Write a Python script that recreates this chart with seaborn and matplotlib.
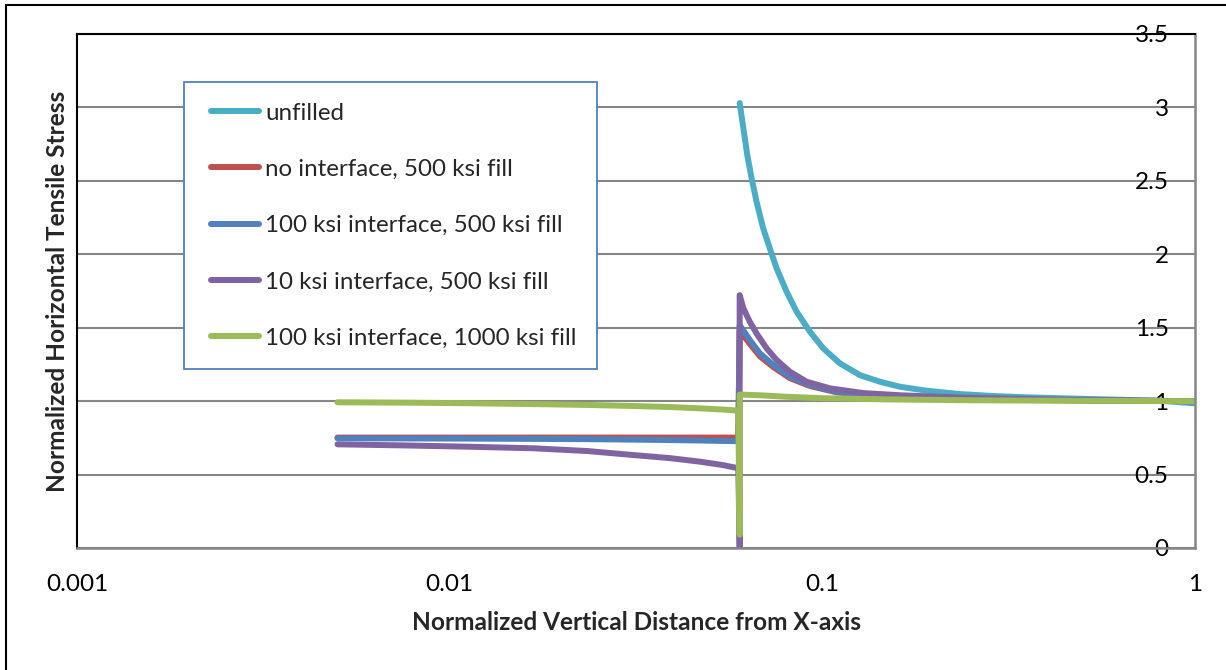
import matplotlib
matplotlib.use("Agg")
import matplotlib.pyplot as plt
import matplotlib.ticker as mticker
from matplotlib.lines import Line2D
from matplotlib.legend_handler import HandlerLine2D
import pandas as pd
import seaborn as sns

# ---------------- data ----------------
series_names = [
    "unfilled",
    "no interface, 500 ksi fill",
    "100 ksi interface, 500 ksi fill",
    "10 ksi interface, 500 ksi fill",
    "100 ksi interface, 1000 ksi fill",
]
colors = ["#4BACC6", "#C0504D", "#4F81BD", "#8064A2", "#9BBB59"]

x_tip = 0.0600

# unfilled (only exists beyond the crack tip)
x_unfilled = [0.0600, 0.0614, 0.0629, 0.0646, 0.0666, 0.0694, 0.0723, 0.0754,
              0.0802, 0.0853, 0.0927, 0.1006, 0.1115, 0.1262, 0.1428, 0.1616,
              0.1905, 0.2341, 0.2875, 0.3535, 0.5326, 0.8054, 1.0]
y_unfilled = [3.03, 2.857, 2.675, 2.517, 2.358, 2.176, 2.04, 1.904,
              1.745, 1.609, 1.472, 1.359, 1.257, 1.177, 1.132, 1.098,
              1.071, 1.048, 1.035, 1.026, 1.014, 1.003, 0.985]

# before the crack tip (shared x)
x_pre = [0.005, 0.00735, 0.0111, 0.0168, 0.0235, 0.0311, 0.0390, 0.0469, 0.0540, 0.0595]

red_pre = [0.752, 0.752, 0.752, 0.752, 0.752, 0.752, 0.752, 0.752, 0.752, 0.752]
blue_pre = [0.747, 0.746, 0.745, 0.743, 0.741, 0.738, 0.735, 0.732, 0.729, 0.727]
purple_pre = [0.706, 0.699, 0.690, 0.679, 0.660, 0.633, 0.612, 0.588, 0.565, 0.543]
green_pre = [0.992, 0.990, 0.986, 0.980, 0.974, 0.967, 0.960, 0.951, 0.943, 0.935]

# values right at the crack tip (bottom of the vertical drop)
purple_tip = 0.0
green_tip = 0.09

# after the crack tip
x_post_rb = [0.0600, 0.0639, 0.0680, 0.0739, 0.0819, 0.0927, 0.1093, 0.1343,
             0.1616, 0.2341, 0.3500, 0.5500, 1.0]
red_post = [1.48, 1.39, 1.305, 1.232, 1.156, 1.103, 1.06, 1.037,
            1.028, 1.017, 1.009, 1.004, 1.0]
blue_post = [1.518, 1.416, 1.325, 1.246, 1.166, 1.11, 1.064, 1.04,
             1.03, 1.018, 1.01, 1.004, 1.0]

x_post_purple = [0.0600, 0.0614, 0.0639, 0.0666, 0.0709, 0.0754, 0.0819, 0.0908,
                 0.1049, 0.1288, 0.1616, 0.1905, 0.2341, 0.3535, 0.5500, 1.0]
purple_post = [1.722, 1.632, 1.54, 1.461, 1.359, 1.28, 1.20, 1.132,
               1.087, 1.055, 1.040, 1.033, 1.025, 1.014, 1.005, 1.0]

x_post_green = [0.0600, 0.0680, 0.0800, 0.1000, 0.1500, 0.2500, 0.5000, 1.0]
green_post = [1.045, 1.04, 1.03, 1.02, 1.012, 1.006, 1.002, 1.0]

x_ticks = [0.001, 0.01, 0.1, 1]
x_tick_labels = ["0.001", "0.01", "0.1", "1"]
y_ticks = [0, 0.5, 1, 1.5, 2, 2.5, 3, 3.5]
y_tick_labels = ["0", "0.5", "1", "1.5", "2", "2.5", "3", "3.5"]

x_label = "Normalized Vertical Distance from X-axis"
y_label = "Normalized Horizontal Tensile Stress"

# ---------------- build long table ----------------
rows = []
def add(name, xs, ys):
    for xv, yv in zip(xs, ys):
        rows.append({"series": name, "x": xv, "y": yv})

add(series_names[0], x_unfilled, y_unfilled)
add(series_names[1], x_pre + x_post_rb, red_pre + red_post)
add(series_names[2], x_pre + x_post_rb, blue_pre + blue_post)
add(series_names[3], x_pre + [x_tip] + x_post_purple,
    purple_pre + [purple_tip] + purple_post)
add(series_names[4], x_pre + [x_tip] + x_post_green,
    green_pre + [green_tip] + green_post)
df = pd.DataFrame(rows)

# ---------------- plot ----------------
sns.set_theme(style="white")
plt.rcParams["font.family"] = ["Lato", "DejaVu Sans"]

W, H = 1226, 670
fig = plt.figure(figsize=(W / 100, H / 100), dpi=100)
L, R, T, B = 77, 1195, 34, 548
ax = fig.add_axes([L / W, 1 - B / H, (R - L) / W, (B - T) / H])

LW = 4.3
sns.lineplot(data=df, x="x", y="y", hue="series", hue_order=series_names,
             palette=colors, sort=False, estimator=None, linewidth=LW,
             legend=False, ax=ax, solid_capstyle="round", solid_joinstyle="round")

ax.set_xscale("log")
ax.set_xlim(0.001, 1)
ax.set_ylim(0, 3.5)

grid_c = "#868686"
ax.set_yticks(y_ticks)
ax.set_yticklabels(y_tick_labels)
ax.yaxis.tick_right()
ax.yaxis.grid(True, color=grid_c, linewidth=1.5)
ax.xaxis.grid(False)
ax.set_axisbelow(True)
ax.tick_params(axis="y", which="major", direction="in", length=0, pad=-19,
               labelsize=17.5, colors="black")
for lab in ax.get_yticklabels():
    lab.set_horizontalalignment("right")

ax.xaxis.set_major_locator(mticker.FixedLocator(x_ticks))
ax.xaxis.set_minor_locator(mticker.NullLocator())
ax.set_xticklabels(x_tick_labels)
ax.tick_params(axis="x", which="major", direction="out", length=6, width=1.5,
               color=grid_c, pad=13, labelsize=17.5, labelcolor="black")

for side in ["left", "top"]:
    ax.spines[side].set_color("black")
    ax.spines[side].set_linewidth(1.5)
for side in ["right", "bottom"]:
    ax.spines[side].set_color(grid_c)
    ax.spines[side].set_linewidth(1.8)

ax.set_xlabel(x_label, fontsize=17.6, fontweight="bold")
ax.set_ylabel(y_label, fontsize=17.6, fontweight="bold")
ax.yaxis.set_label_position("left")
ax.xaxis.set_label_coords(0.5, -(611 - B) / (B - T))
ax.yaxis.set_label_coords(-(77 - 69) / (R - L), 0.5)
ax.xaxis.label.set_va("top")

FS = 17.4
fs_px = FS * 100 / 72
handles = [Line2D([0], [0], color=c, linewidth=LW, solid_capstyle="round")
           for c in colors]
xpad_px = 6.6
leg = ax.legend(handles, series_names, loc="upper left",
                bbox_to_anchor=(184 / W, 1 - 82 / H), bbox_transform=fig.transFigure,
                frameon=True, fancybox=False, fontsize=FS, labelspacing=1.46,
                handlelength=(48 + xpad_px) / fs_px, handletextpad=0.25,
                borderpad=0.85, borderaxespad=0, framealpha=1,
                handler_map={Line2D: HandlerLine2D(xpad=xpad_px / fs_px)})
leg.get_frame().set_edgecolor("#4F81BD")
leg.get_frame().set_linewidth(1.3)

# outer chart frame (left and top edges visible)
fig.add_artist(Line2D([6 / W, 6 / W], [0, 1 - 5 / H], transform=fig.transFigure,
                      color="black", linewidth=1.5))
fig.add_artist(Line2D([6 / W, 1], [1 - 5 / H, 1 - 5 / H], transform=fig.transFigure,
                      color="black", linewidth=1.5))

fig.savefig("out.png", dpi=100)
